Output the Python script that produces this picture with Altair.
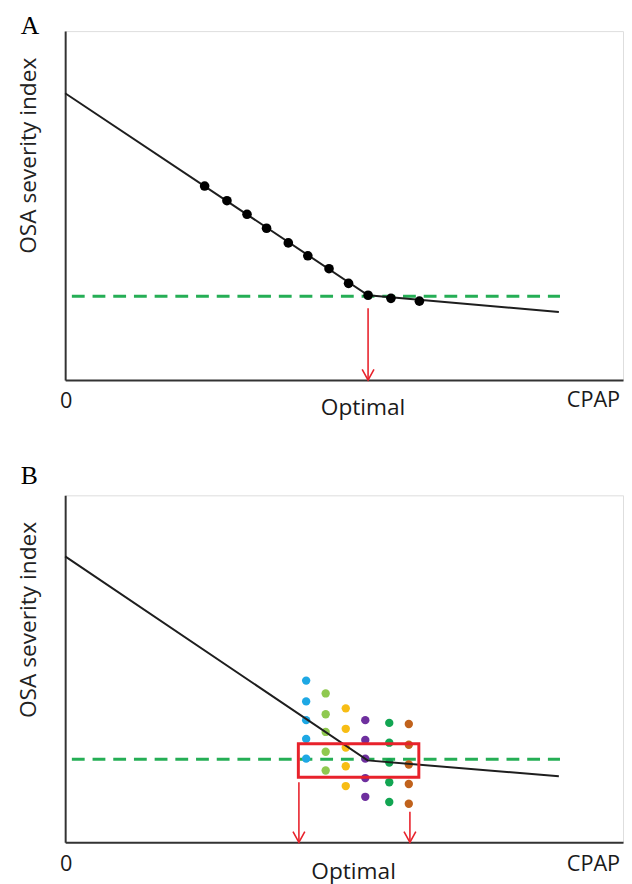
import altair as alt
import pandas as pd

# ---------------- data (x and y in arbitrary units 0-100) ----------------
# Panel A
A_line_x = [0, 54.3, 88.5]
A_line_y = [82.2, 24.3, 19.5]
A_dot_x = [25.0, 29.0, 32.6, 36.1, 40.0, 43.5, 47.3, 50.8, 54.3, 58.4, 63.5]
A_dot_y = [55.6, 51.4, 47.5, 43.5, 39.3, 35.6, 31.9, 27.7, 24.3, 23.4, 22.6]
A_threshold = 24.0
A_threshold_x = [1.2, 88.7]
A_arrow_x = [54.3]
A_arrow_top = [20.6]
A_label_text = ["0", "Optimal", "CPAP"]
A_label_x = [0.2, 53.4, 94.7]
A_label_y = [-7.9, -9.9, -7.6]

# Panel B
B_line_x = [0, 54.2, 88.5]
B_line_y = [82.4, 23.6, 19.0]
B_col_x = [43.2, 46.7, 50.3, 53.8, 58.1, 61.6]
B_col_y = [
    [46.6, 40.6, 35.2, 29.8, 24.1],
    [42.9, 36.9, 31.8, 26.1, 20.7],
    [38.6, 32.7, 27.3, 21.9, 16.2],
    [35.2, 29.5, 24.1, 18.5, 13.1],
    [34.4, 28.7, 23.0, 17.3, 11.6],
    [34.1, 28.1, 22.4, 16.8, 11.1],
]
B_col_names = ["c1", "c2", "c3", "c4", "c5", "c6"]
B_col_colors = ["#1EA8E4", "#8FC94F", "#F7BD14", "#6E2F9E", "#12A552", "#C0621C"]
B_threshold = 23.9
B_threshold_x = [1.2, 88.7]
B_box_x = [41.8, 63.4]
B_box_y = [18.75, 28.4]
B_arrow_x = [41.9, 61.8]
B_arrow_top = [17.3, 8.8]
B_label_text = ["0", "Optimal", "CPAP"]
B_label_x = [0.2, 51.7, 94.7]
B_label_y = [-8.3, -10.5, -8.3]

# ---------------- style ----------------
W = 566
SANS = "Open Sans"
SERIF = "Liberation Serif"
INK = "#1e1e1e"
GREEN = "#25AE55"
RED = "#E8222B"

xs = alt.Scale(domain=[0, 100], nice=False, zero=False)
ys = alt.Scale(domain=[0, 100], nice=False, zero=False)
x_axis = alt.Axis(title=None, labels=False, ticks=False, grid=False,
                  domainColor="#333333", domainWidth=2)
y_axis = alt.Axis(title="OSA severity index", labels=False, ticks=False, grid=False,
                  domainColor="#333333", domainWidth=2,
                  titleFont=SANS, titleFontSize=23, titleFontWeight="normal",
                  titleColor="#222222", titlePadding=25, titleY=126)

ARROW_HEAD = "M-1,-1.8L0,0L1,-1.8"


def panel(letter, title_offset, height, line_x, line_y, thr, thr_x, arrow_x, arrow_top,
          lab_text, lab_x, lab_y, extra_layers_before, extra_layers_after):
    line_df = pd.DataFrame({"x": line_x, "y": line_y})
    thr_df = pd.DataFrame({"x": [thr_x[0]], "x2": [thr_x[1]], "y": [thr]})
    arr_df = pd.DataFrame({"x": arrow_x, "y": arrow_top, "y0": [0.0] * len(arrow_x)})
    lab_df = pd.DataFrame({"t": lab_text, "x": lab_x, "y": lab_y})

    base_line = alt.Chart(line_df).mark_line(color=INK, strokeWidth=2).encode(
        x=alt.X("x:Q", scale=xs, axis=x_axis),
        y=alt.Y("y:Q", scale=ys, axis=y_axis),
    )
    thr_rule = alt.Chart(thr_df).mark_rule(color=GREEN, strokeWidth=3, strokeDash=[13, 8]).encode(
        x=alt.X("x:Q", scale=xs), x2="x2:Q", y=alt.Y("y:Q", scale=ys)
    )
    arrows = alt.Chart(arr_df).mark_rule(color=RED, strokeWidth=1.6).encode(
        x=alt.X("x:Q", scale=xs), y=alt.Y("y:Q", scale=ys), y2="y0:Q"
    )
    heads = alt.Chart(arr_df).mark_point(shape=ARROW_HEAD, filled=False, color=RED,
                                         strokeWidth=1.6, size=144, opacity=1).encode(
        x=alt.X("x:Q", scale=xs), y=alt.Y("y0:Q", scale=ys)
    )
    end_labels = alt.Chart(lab_df).transform_filter(alt.datum.t != "Optimal").mark_text(
        font=SANS, fontSize=22, color="#1a1a1a", align="center", baseline="alphabetic"
    ).encode(x=alt.X("x:Q", scale=xs), y=alt.Y("y:Q", scale=ys), text="t:N")
    mid_label = alt.Chart(lab_df).transform_filter(alt.datum.t == "Optimal").mark_text(
        font=SANS, fontSize=23, color="#1a1a1a", align="center", baseline="alphabetic"
    ).encode(x=alt.X("x:Q", scale=xs), y=alt.Y("y:Q", scale=ys), text="t:N")
    layers = ([thr_rule] + extra_layers_before + [base_line] + extra_layers_after
              + [arrows, heads, end_labels, mid_label])
    return alt.layer(*layers).properties(
        width=W, height=height,
        title=alt.TitleParams(letter, anchor="start", frame="group", dx=-45,
                              offset=title_offset, font=SERIF, fontSize=26,
                              fontWeight="normal", baseline="alphabetic", color="#000000"),
    )


# Panel A dots (on top of the line)
a_dots_df = pd.DataFrame({"x": A_dot_x, "y": A_dot_y})
a_dots = alt.Chart(a_dots_df).mark_circle(color="#000000", size=95, opacity=1).encode(
    x=alt.X("x:Q", scale=xs), y=alt.Y("y:Q", scale=ys)
)
chart_a = panel("A", -29, 354, A_line_x, A_line_y, A_threshold, A_threshold_x, A_arrow_x, A_arrow_top,
                A_label_text, A_label_x, A_label_y, [], [a_dots])

# Panel B dots and box
rows = []
for name, cx, col in zip(B_col_names, B_col_x, B_col_y):
    for v in col:
        rows.append({"s": name, "x": cx, "y": v})
b_dots_df = pd.DataFrame(rows)
b_dots = alt.Chart(b_dots_df).mark_circle(size=72, opacity=1).encode(
    x=alt.X("x:Q", scale=xs), y=alt.Y("y:Q", scale=ys),
    color=alt.Color("s:N", scale=alt.Scale(domain=B_col_names, range=B_col_colors), legend=None),
)
box_df = pd.DataFrame({"x": [B_box_x[0]], "x2": [B_box_x[1]], "y": [B_box_y[0]], "y2": [B_box_y[1]]})
b_box = alt.Chart(box_df).mark_rect(fillOpacity=0, stroke=RED, strokeWidth=3).encode(
    x=alt.X("x:Q", scale=xs), x2="x2:Q", y=alt.Y("y:Q", scale=ys), y2="y2:Q"
)
chart_b = panel("B", -15, 352, B_line_x, B_line_y, B_threshold, B_threshold_x, B_arrow_x, B_arrow_top,
                B_label_text, B_label_x, B_label_y, [b_dots], [b_box])

chart = alt.vconcat(chart_a, chart_b, spacing=43).properties(
    padding={"left": 9, "top": -2, "right": 0, "bottom": 0}
).configure_view(strokeWidth=0).configure(background="#ffffff")

chart.save("out.html", embed_options={"renderer": "svg", "actions": False})
